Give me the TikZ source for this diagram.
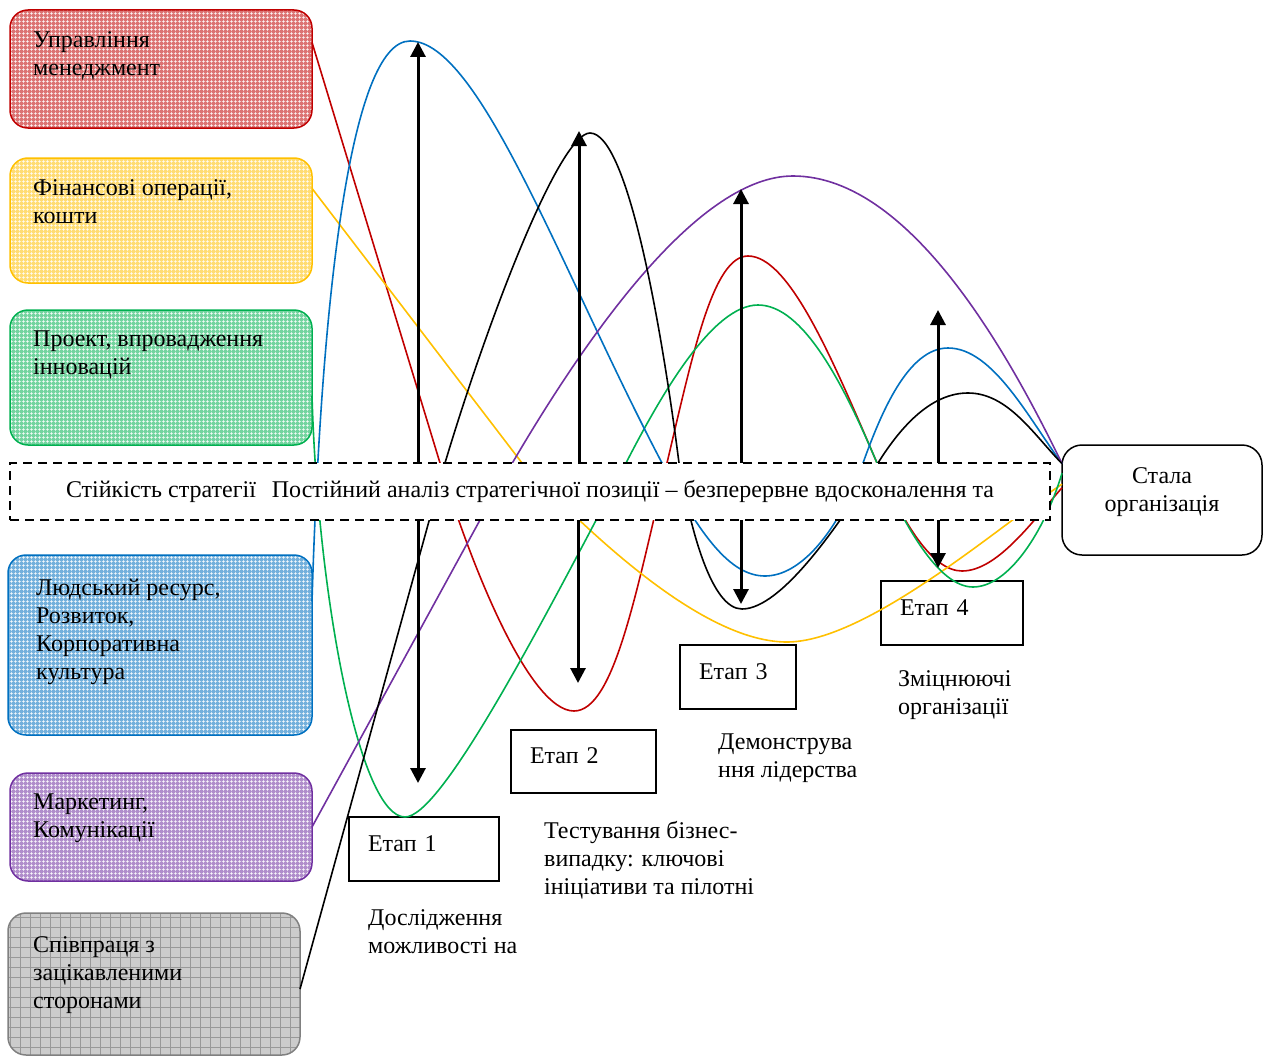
\documentclass[tikz,border=0pt]{standalone}
\usepackage{fontspec}
\setmainfont{Liberation Serif}
\usepackage{tikz}
\usetikzlibrary{positioning,arrows.meta,patterns.meta}

\definecolor{cRed}{HTML}{C00000}
\definecolor{cYel}{HTML}{FFC000}
\definecolor{cGrn}{HTML}{00B050}
\definecolor{cBlu}{HTML}{0070C0}
\definecolor{cPur}{HTML}{7030A0}

\begin{document}
\begin{tikzpicture}[
  x=1pt, y=-1pt,
  font=\fontsize{24}{28}\selectfont,
  lbox/.style={draw, rounded corners=18pt, line width=1.5pt, anchor=north west,
               inner sep=0pt, outer sep=0pt},
  plaid/.style={lbox, draw=#1, preaction={fill=#1!55!white},
                pattern={Hatch[distance=4pt, line width=0.6pt]}, pattern color=white},
  greybox/.style={lbox, draw=black!50, preaction={fill=black!20},
                  pattern={Hatch[distance=10pt, line width=0.7pt]}, pattern color=black!40},
  ltxt/.style={align=left, inner sep=0pt},
  stage/.style={draw, line width=1.5pt, anchor=north west, align=left,
                inner xsep=19pt, inner ysep=0pt, outer sep=0pt,
                text height=16pt, text depth=12pt, minimum height=64pt},
  bandbox/.style={draw, dash pattern=on 9pt off 6pt, line width=1.5pt, fill=white,
                  inner sep=0pt, outer sep=0pt},
  crv/.style={line width=1.6pt},
  arr/.style={-{Triangle[length=15pt, width=15pt]}, line width=3pt}]

\useasboundingbox (0,0) rectangle (1263,1057);

% functional areas (left column)
\node[plaid=cRed, minimum width=302pt, minimum height=118pt] (mgmt) at (10,10) {};
\node[ltxt, below right=21pt and 23pt of mgmt.north west] (mgmt-t) {Управління\\менеджмент};
\node[plaid=cYel, minimum width=302pt, minimum height=125pt] (fin) at (10,158) {};
\node[ltxt, below right=21pt and 23pt of fin.north west] (fin-t) {Фінансові операції,\\кошти};
\node[plaid=cGrn, minimum width=302pt, minimum height=135pt] (proj) at (10,310) {};
\node[ltxt, below right=21pt and 23pt of proj.north west] (proj-t) {Проект, впровадження\\інновацій};
\node[plaid=cBlu, minimum width=304pt, minimum height=180pt] (hr) at (8,555) {};
\node[ltxt, below right=24pt and 28pt of hr.north west] (hr-t) {Людський ресурс,\\Розвиток,\\Корпоративна\\культура};
\node[plaid=cPur, minimum width=302pt, minimum height=108pt] (mkt) at (10,773) {};
\node[ltxt, below right=21pt and 23pt of mkt.north west] (mkt-t) {Маркетинг,\\Комунікації};
\node[greybox, minimum width=292pt, minimum height=142pt] (coop) at (8,913) {};
\node[ltxt, below right=23pt and 25pt of coop.north west] (coop-t) {Співпраця з\\зацікавленими\\сторонами};

% target
\node[draw, rounded corners=20pt, line width=1.5pt, fill=white, anchor=north west,
      minimum width=200pt, minimum height=110pt, inner sep=0pt, outer sep=0pt] (stala) at (1062,445) {};
\node[align=center, inner sep=0pt, below=22pt of stala.north] (stala-t) {Стала\\організація};

% stages
\node[stage, text width=112pt] (e1) at (349,817) {Етап 1};
\node[stage, text width=107pt, minimum height=63pt] (e2) at (511,730) {Етап 2};
\node[stage, text width=78pt] (e3) at (680,645) {Етап 3};
\node[stage, text width=104pt] (e4) at (881,581) {Етап 4};
\node[ltxt, below right=28pt and 19pt of e1.south west] (e1-d) {Дослідження\\можливості на};
\node[ltxt, below right=28pt and 33pt of e2.south west] (e2-d) {Тестування бізнес-\\випадку: ключові\\ініціативи та пілотні};
\node[ltxt, below right=25pt and 38pt of e3.south west] (e3-d) {Демонструва\\ння лідерства};
\node[ltxt, below right=25pt and 17pt of e4.south west] (e4-d) {Зміцнюючі\\організації};

% strands
\draw[crv, cRed] (mgmt.10) -- (440,463)
  .. controls (470,563) and (529,711) .. (574,711)
  .. controls (614,711) and (636,593) .. (667,463)
  .. controls (693,353) and (713,256) .. (748,256)
  .. controls (790,256) and (834,363) .. (877,463)
  .. controls (903,523) and (932,571) .. (962,571)
  .. controls (997,571) and (1032,522) .. (stala.173);
\draw[crv, cYel] (fin.12) -- (522,463)
  .. controls (622,568) and (717,642) .. (787,642)
  .. controls (867,642) and (1002,524) .. (stala.171);
\draw[crv, cGrn] (proj.-7) .. controls (318,600) and (360,817) .. (405,817)
  .. controls (440,817) and (532,643) .. (626,463)
  .. controls (662,393) and (713,305) .. (758,305)
  .. controls (803,305) and (843,383) .. (877,463)
  .. controls (903,523) and (938,587) .. (973,587)
  .. controls (1008,587) and (1044,533) .. (stala.165);
\draw[crv, cBlu] (hr.16) .. controls (321,301) and (350,41) .. (410,41)
  .. controls (480,41) and (562,273) .. (662,463)
  .. controls (700,535) and (730,576) .. (765,576)
  .. controls (800,576) and (838,533) .. (863,463)
  .. controls (881,413) and (908,348) .. (948,348)
  .. controls (993,348) and (1029,419) .. (stala.160);
\draw[crv, cPur] (mkt.east) -- (480,520)
  .. controls (590,320) and (703,176) .. (793,176)
  .. controls (913,176) and (1013,363) .. (stala.160);
\draw[crv, black] (coop.-2) -- (445,463)
  .. controls (490,313) and (560,133) .. (590,133)
  .. controls (628,133) and (662,330) .. (679,463)
  .. controls (691,533) and (712,609) .. (742,609)
  .. controls (782,609) and (840,523) .. (878,463)
  .. controls (903,423) and (933,393) .. (968,393)
  .. controls (1008,393) and (1034,435) .. (stala.160);

% strategy band
\node[bandbox, minimum width=1040pt, minimum height=57pt] (band) at (530,491.5)
  {Стійкість стратегії\hspace{16pt}Постійний аналіз стратегічної позиції – безперервне вдосконалення та};

% amplitude arrows
\coordinate (up1) at (418,42);
\coordinate (dn1) at (418,783);
\coordinate (up2) at (579,131);
\coordinate (dn2) at (578,683);
\coordinate (up3) at (741,189);
\coordinate (dn3) at (741,604);
\coordinate (up4) at (938,310);
\coordinate (dn4) at (938,568);
\draw[arr] (band.north -| up1) -- (up1);
\draw[arr] (band.south -| dn1) -- (dn1);
\draw[arr] (band.north -| up2) -- (up2);
\draw[arr] (band.south -| dn2) -- (dn2);
\draw[arr] (band.north -| up3) -- (up3);
\draw[arr] (band.south -| dn3) -- (dn3);
\draw[arr] (band.north -| up4) -- (up4);
\draw[arr] (band.south -| dn4) -- (dn4);
\end{tikzpicture}
\end{document}
